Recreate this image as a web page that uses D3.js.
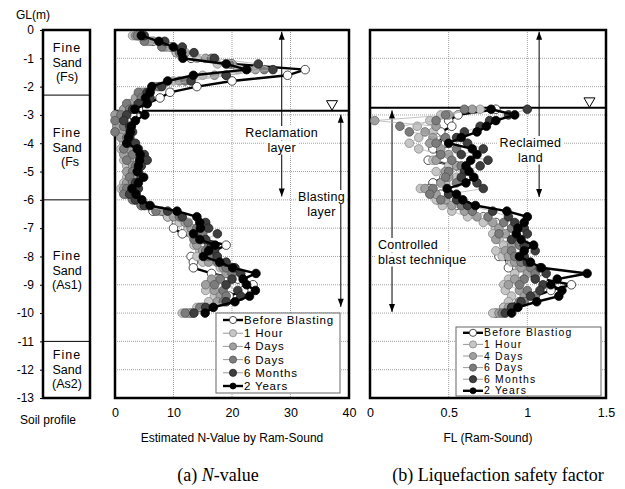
<!DOCTYPE html>
<html>
<head>
<meta charset="utf-8">
<script src="https://cdn.jsdelivr.net/npm/d3@7"></script>
<style>
  body { margin: 0; background: #fff; }
  text { font-family: "Liberation Sans", "DejaVu Sans", sans-serif; }
</style>
</head>
<body>
<div id="chart"></div>
<script>
// Depths (m) of the Ram-Sound readings
const depthsN = [-0.2, -0.4, -0.6, -0.8, -1.0, -1.2, -1.4, -1.6, -1.8, -2.0,
  -2.2, -2.4, -2.6, -2.8, -3.0, -3.2, -3.4, -3.6, -3.8, -4.0,
  -4.2, -4.4, -4.6, -4.8, -5.0, -5.2, -5.4, -5.6, -5.8, -6.0,
  -6.2, -6.4, -6.6, -6.8, -7.0, -7.2, -7.4, -7.6, -7.8, -8.0,
  -8.2, -8.4, -8.6, -8.8, -9.0, -9.2, -9.4, -9.6, -9.8, -10.0];
const depthsFL = [-2.8, -3.0, -3.2, -3.4, -3.6, -3.8, -4.0,
  -4.2, -4.4, -4.6, -4.8, -5.0, -5.2, -5.4, -5.6, -5.8, -6.0,
  -6.2, -6.4, -6.6, -6.8, -7.0, -7.2, -7.4, -7.6, -7.8, -8.0,
  -8.2, -8.4, -8.6, -8.8, -9.0, -9.2, -9.4, -9.6, -9.8, -10.0];

// Series names (legend b keeps the original typo)
const namesN = ["Before Blasting", "1 Hour", "4 Days", "6 Days", "6 Months", "2 Years"];
const namesFL = ["Before Blastiog", "1 Hour", "4 Days", "6 Days", "6 Months", "2 Years"];

// Estimated N-values
const nBefore = [4.0, 6.5, 9.5, 10.5, 13.0, 20.0, 32.5, 29.5, 20.0, 14.0,
  9.4, 7.7, 5.5, 4.0, 3.0, 2.0, 1.5, 1.8, 2.5, 3.0,
  2.5, 2.0, 3.0, 2.5, 3.5, 2.8, 2.0, 1.5, 2.0, 3.5,
  4.5, 6.5, 9.0, 10.5, 10.0, 11.5, 15.0, 19.0, 17.0, 13.0,
  13.4, 13.4, 16.5, 21.0, 23.6, 22.0, 19.5, 17.5, 15.0, 13.0];
const n1Hour = [3.0, 5.5, 9.0, 10.5, 14.0, 17.5, 21.0, 15.0, 10.0, 7.0,
  4.5, 4.0, 3.0, 1.5, 0.8, 0.5, 1.0, 0.6, 1.2, 1.5,
  1.0, 2.0, 1.5, 2.0, 2.5, 2.0, 1.5, 1.0, 2.0, 3.5,
  5.0, 7.5, 9.0, 11.0, 12.5, 13.0, 14.0, 13.5, 14.5, 14.0,
  15.0, 18.0, 19.5, 17.5, 16.0, 15.5, 17.0, 16.0, 14.0, 11.5];
const n4Days = [3.5, 6.0, 8.5, 12.0, 15.5, 20.0, 24.0, 17.0, 11.0, 6.5,
  5.0, 3.5, 2.5, 1.5, 0.0, 1.0, 0.3, 1.5, 1.0, 2.0,
  2.5, 1.5, 2.5, 3.0, 2.0, 3.0, 2.0, 1.5, 2.5, 4.0,
  5.5, 8.0, 10.0, 12.0, 13.0, 14.0, 15.5, 14.0, 15.0, 16.5,
  16.0, 18.5, 19.0, 16.5, 15.5, 17.0, 18.0, 17.5, 15.0, 12.5];
const n6Days = [3.8, 5.0, 8.0, 11.0, 16.5, 19.5, 25.5, 19.0, 12.0, 7.5,
  4.0, 4.5, 2.0, 2.5, 1.0, 0.0, 1.5, 0.0, 2.0, 2.5,
  1.5, 3.0, 2.0, 3.5, 3.0, 2.5, 3.0, 2.0, 1.5, 3.0,
  4.5, 7.0, 11.0, 12.5, 14.0, 15.0, 13.5, 16.0, 15.5, 16.0,
  17.5, 19.0, 20.0, 18.0, 17.0, 18.5, 19.0, 18.5, 14.5, 12.0];
const n6Months = [5.0, 8.5, 11.5, 13.5, 17.0, 24.5, 27.0, 19.0, 13.0, 8.0,
  5.5, 6.0, 4.0, 3.0, 2.0, 1.5, 2.5, 3.0, 2.5, 3.5,
  4.0, 5.0, 5.5, 4.5, 4.0, 4.5, 3.5, 4.0, 2.5, 3.5,
  5.0, 9.0, 11.5, 15.5, 16.0, 17.5, 15.5, 16.5, 17.0, 17.5,
  19.0, 20.5, 21.5, 20.0, 19.0, 21.0, 21.5, 19.0, 15.5, 13.5];
const n2Years = [4.5, 7.5, 10.0, 11.4, 11.6, 19.0, 22.5, 13.4, 9.0, 6.3,
  6.0, 5.2, 5.5, 3.4, 5.1, 3.5, 2.8, 2.6, 2.3, 2.0,
  3.8, 4.3, 4.2, 4.0, 3.8, 4.9, 4.0, 2.9, 3.6, 4.6,
  6.0, 10.6, 14.0, 14.5, 14.6, 13.4, 14.5, 17.1, 16.0, 15.1,
  17.9, 20.1, 24.1, 21.9, 22.5, 24.0, 23.0, 20.5, 16.8, 15.4];

// Liquefaction safety factor FL
const flBefore = [0.80, 0.56, 0.50, 0.52, 0.45, 0.42, 0.48,
  0.40, 0.45, 0.37, 0.55, 0.50, 0.47, 0.40, 0.38, 0.45, 0.43,
  0.55, 0.65, 0.72, 0.80, 0.85, 0.88, 0.93, 0.88, 0.85, 0.82,
  0.89, 0.88, 0.95, 1.10, 1.28, 1.15, 1.05, 0.95, 0.85, 0.80];
const fl1Hour = [0.70, 0.45, 0.38, 0.30, 0.40, 0.31, 0.25,
  0.31, 0.45, 0.40, 0.50, 0.42, 0.55, 0.48, 0.32, 0.40, 0.42,
  0.46, 0.52, 0.62, 0.72, 0.80, 0.78, 0.82, 0.85, 0.80, 0.84,
  0.90, 0.95, 0.92, 0.88, 0.85, 0.86, 0.90, 0.88, 0.85, 0.78];
const fl4Days = [0.65, 0.50, 0.03, 0.42, 0.35, 0.40, 0.38,
  0.45, 0.50, 0.42, 0.55, 0.48, 0.50, 0.45, 0.35, 0.42, 0.48,
  0.52, 0.60, 0.68, 0.78, 0.82, 0.86, 0.80, 0.90, 0.86, 0.88,
  0.92, 0.96, 1.00, 0.92, 0.88, 0.95, 0.98, 0.95, 0.88, 0.82];
const fl6Days = [0.60, 0.48, 0.42, 0.19, 0.25, 0.48, 0.42,
  0.55, 0.45, 0.52, 0.58, 0.50, 0.48, 0.55, 0.40, 0.38, 0.45,
  0.58, 0.65, 0.75, 0.85, 0.90, 0.82, 0.92, 0.95, 0.90, 0.92,
  0.96, 1.02, 1.05, 0.98, 0.95, 1.00, 1.05, 0.98, 0.90, 0.84];
const fl6Months = [1.00, 0.88, 0.76, 0.70, 0.60, 0.55, 0.62,
  0.72, 0.58, 0.75, 0.70, 0.60, 0.58, 0.68, 0.72, 0.50, 0.55,
  0.62, 0.78, 0.88, 0.92, 0.98, 1.00, 0.90, 0.98, 1.05, 0.98,
  1.00, 1.08, 1.12, 1.05, 1.10, 1.08, 1.02, 0.96, 0.90, 0.86];
const fl2Years = [0.77, 0.92, 0.80, 0.74, 0.68, 0.58, 0.50,
  0.65, 0.68, 0.64, 0.61, 0.63, 0.66, 0.61, 0.49, 0.55, 0.59,
  0.67, 0.87, 1.00, 0.98, 0.94, 0.93, 0.96, 1.04, 0.98, 0.95,
  1.02, 1.09, 1.38, 1.19, 1.15, 1.22, 1.20, 1.06, 0.94, 0.90];

// Ticks
const depthTicks = [0, -1, -2, -3, -4, -5, -6, -7, -8, -9, -10, -11, -12, -13];
const nTicks = [0, 10, 20, 30, 40];
const flTicks = [0, 0.5, 1, 1.5];

// Soil profile
const soilTops = [0, -2.3, -6, -11];
const soilBottoms = [-2.3, -6, -11, -13];
const soilLabels = [["Fine", "Sand", "(Fs)"], ["Fine", "Sand", "(Fs"], ["Fine", "Sand", "(As1)"], ["Fine", "Sand", "(As2)"]];

const waterN = -2.85;
const waterFL = -2.75;

// ---------- drawing ----------
const width = 625, height = 489;
const svg = d3.select("#chart").append("svg")
  .attr("width", width).attr("height", height)
  .style("display", "block");
svg.append("rect").attr("width", width).attr("height", height).attr("fill", "#fff");

const y = d3.scaleLinear().domain([0, -13]).range([30, 398]);
const xN = d3.scaleLinear().domain([0, 40]).range([115, 349]);
const xF = d3.scaleLinear().domain([0, 1.5]).range([370, 606]);

// marker styles per series, same order as the names
const looks = [
  { fill: "#fff", stroke: "#222", line: "#000", lw: 2.4 },
  { fill: "#c6c6c6", stroke: "#8a8a8a", line: "#b4b4b4", lw: 0.8 },
  { fill: "#a0a0a0", stroke: "#6e6e6e", line: "#b4b4b4", lw: 0.8 },
  { fill: "#7c7c7c", stroke: "#555", line: "#b4b4b4", lw: 0.8 },
  { fill: "#3e3e3e", stroke: "#222", line: "#b4b4b4", lw: 0.8 },
  { fill: "#000", stroke: "#000", line: "#000", lw: 2.4 }
];

// Soil profile column
const soil = svg.append("g");
soil.selectAll("line.div")
  .data(soilTops.slice(1))
  .join("line")
  .attr("x1", 43).attr("x2", 90)
  .attr("y1", d => y(d)).attr("y2", d => y(d))
  .attr("stroke", "#000").attr("stroke-width", 1);
soil.append("rect")
  .attr("x", 43).attr("y", y(0)).attr("width", 47).attr("height", y(-13) - y(0))
  .attr("fill", "none").attr("stroke", "#000").attr("stroke-width", 2.5);
soilLabels.forEach((lines, i) => {
  const mid = y((soilTops[i] + soilBottoms[i]) / 2);
  lines.forEach((t, j) => {
    soil.append("text")
      .attr("x", t === "(Fs" ? 70 : 67)
      .attr("y", mid + (j - 1) * 14.5 + 4.3)
      .attr("text-anchor", "middle")
      .style("font-size", "12.5px")
      .style("letter-spacing", t === "Fine" ? "1px" : null)
      .text(t);
  });
});

// depth axis
const yAxis = svg.append("g")
  .attr("transform", "translate(43,0)")
  .call(d3.axisLeft(y).tickValues(depthTicks).tickFormat(d => String(d)).tickSize(3).tickPadding(6));
yAxis.select(".domain").remove();
yAxis.selectAll("text").style("font-size", "12px").style("font-family", "'Liberation Sans', sans-serif");

svg.append("text").attr("x", 16).attr("y", 19).style("font-size", "12px").text("GL(m)");
svg.append("text").attr("x", 20).attr("y", 424).style("font-size", "12px").text("Soil profile");

function arrowHead(g, x, yy, dir) {
  // dir = -1 points up, 1 points down
  g.append("path")
    .attr("d", `M${x},${yy} L${x - 3},${yy - dir * 8} L${x + 3},${yy - dir * 8} Z`)
    .attr("fill", "#000");
}

function vArrow(g, x, y1, y2, upHead, downHead) {
  g.append("line").attr("x1", x).attr("x2", x).attr("y1", y1).attr("y2", y2)
    .attr("stroke", "#000").attr("stroke-width", 1);
  if (upHead) arrowHead(g, x, y1, -1);
  if (downHead) arrowHead(g, x, y2, 1);
}

function boxedLabel(g, x, yy, lines, anchor) {
  lines.forEach((t, i) => {
    const tx = g.append("text")
      .attr("x", x).attr("y", yy + i * 14.5)
      .attr("text-anchor", anchor)
      .style("font-size", "12.5px")
      .style("letter-spacing", "0.3px")
      .text(t);
    const b = tx.node().getBBox();
    g.insert("rect", () => tx.node())
      .attr("x", b.x - 2).attr("y", b.y).attr("width", b.width + 4).attr("height", b.height)
      .attr("fill", "#fff");
  });
}

function panel(x, depths, seriesList, names, ticks, fmt, water, legend) {
  const g = svg.append("g");
  const [x0, x1] = x.range();

  // grid
  g.selectAll("line.hg")
    .data(depthTicks.filter(d => d !== 0 && d !== -13))
    .join("line")
    .attr("x1", x0).attr("x2", x1)
    .attr("y1", d => y(d)).attr("y2", d => y(d))
    .attr("stroke", "#8c8c8c").attr("stroke-width", 0.8).attr("stroke-dasharray", "1,1");
  g.selectAll("line.vg")
    .data(ticks.slice(1, -1))
    .join("line")
    .attr("x1", d => x(d)).attr("x2", d => x(d))
    .attr("y1", y(0)).attr("y2", y(-13))
    .attr("stroke", "#8c8c8c").attr("stroke-width", 0.8).attr("stroke-dasharray", "1,1");

  // ground water level
  g.append("line")
    .attr("x1", x0).attr("x2", x1).attr("y1", y(water)).attr("y2", y(water))
    .attr("stroke", "#000").attr("stroke-width", 2);

  // frame
  g.append("rect")
    .attr("x", x0).attr("y", y(0)).attr("width", x1 - x0).attr("height", y(-13) - y(0))
    .attr("fill", "none").attr("stroke", "#000").attr("stroke-width", 2.5);

  const ann = svg.append("g");
  legend.annotate(ann);

  // series
  const line = d3.line().x(d => x(d[0])).y(d => y(d[1]));
  seriesList.forEach((vals, i) => {
    const pts = vals.map((v, k) => [v, depths[k]]);
    const s = svg.append("g");
    s.append("path").attr("d", line(pts))
      .attr("fill", "none").attr("stroke", looks[i].line).attr("stroke-width", looks[i].lw);
    s.selectAll("circle").data(pts).join("circle")
      .attr("cx", d => x(d[0])).attr("cy", d => y(d[1])).attr("r", 4.3)
      .attr("fill", looks[i].fill).attr("stroke", looks[i].stroke).attr("stroke-width", 0.8);
  });

  // water table symbol
  const tx = x(legend.tri), ty = y(water) - 10;
  svg.append("path")
    .attr("d", `M${tx - 5.5},${ty} L${tx + 5.5},${ty} L${tx},${ty + 9.5} Z`)
    .attr("fill", "#fff").attr("stroke", "#000").attr("stroke-width", 1);

  // x axis labels
  const ax = svg.append("g").attr("transform", `translate(0,${y(-13)})`)
    .call(d3.axisBottom(x).tickValues(ticks).tickFormat(fmt).tickSize(0).tickPadding(10));
  ax.select(".domain").remove();
  ax.selectAll("text").style("font-size", "12.5px").style("font-family", "'Liberation Sans', sans-serif");

  // legend
  const L = svg.append("g");
  L.append("rect")
    .attr("x", legend.x).attr("y", legend.y).attr("width", legend.w).attr("height", legend.h)
    .attr("fill", "#fff").attr("stroke", "#666").attr("stroke-width", 1);
  names.forEach((n, i) => {
    const cy = legend.y + legend.first + i * legend.step;
    L.append("line")
      .attr("x1", legend.x + 7).attr("x2", legend.x + 27).attr("y1", cy).attr("y2", cy)
      .attr("stroke", i === 0 || i === 5 ? "#000" : "#999")
      .attr("stroke-width", i === 0 || i === 5 ? 2.4 : 1);
    L.append("circle")
      .attr("cx", legend.x + 17).attr("cy", cy).attr("r", i === 5 ? 3 : 3.6)
      .attr("fill", looks[i].fill).attr("stroke", looks[i].stroke).attr("stroke-width", 0.8);
    L.append("text")
      .attr("x", legend.x + 28).attr("y", cy + legend.dy)
      .style("font-size", legend.fs)
      .style("letter-spacing", legend.ls)
      .text(n);
  });
}

panel(xN, depthsN, [nBefore, n1Hour, n4Days, n6Days, n6Months, n2Years], namesN,
  nTicks, d => String(d), waterN, {
    x: 216, y: 313, w: 124, h: 80, first: 7, step: 13.2, fs: "11.5px", ls: "0.8px", dy: 4, tri: 37.1,
    annotate: g => {
      vArrow(g, xN(28.5), y(-0.06), y(-5.88), true, true);
      boxedLabel(g, xN(28.5), 137, ["Reclamation", "layer"], "middle");
      vArrow(g, xN(38.6), y(-2.99), y(-9.78), true, true);
      boxedLabel(g, xN(35.3), 201, ["Blasting", "layer"], "middle");
    }
  });

panel(xF, depthsFL, [flBefore, fl1Hour, fl4Days, fl6Days, fl6Months, fl2Years], namesFL,
  flTicks, d => (d === 0 || d === 1) ? String(d) : d.toFixed(1), waterFL, {
    x: 456, y: 327, w: 145, h: 69, first: 5.8, step: 11.6, fs: "10.4px", ls: "1.2px", dy: 3.6, tri: 1.395,
    annotate: g => {
      vArrow(g, xF(1.075), y(-0.06), y(-5.9), true, true);
      boxedLabel(g, xF(1.02), 147, ["Reclaimed", "land"], "middle");
      vArrow(g, xF(0.14), y(-2.84), y(-9.96), true, true);
      boxedLabel(g, 378, 249, ["Controlled", "blast technique"], "start");
    }
  });

// axis titles
svg.append("text").attr("x", 232).attr("y", 442).attr("text-anchor", "middle")
  .style("font-size", "12px").text("Estimated N-Value by Ram-Sound");
svg.append("text").attr("x", 488).attr("y", 442).attr("text-anchor", "middle")
  .style("font-size", "12px").text("FL (Ram-Sound)");

// captions
const capA = svg.append("text").attr("x", 218).attr("y", 481).attr("text-anchor", "middle")
  .style("font-family", "'Liberation Serif', serif").style("font-size", "18px");
capA.append("tspan").text("(a) ");
capA.append("tspan").style("font-style", "italic").text("N");
capA.append("tspan").text("-value");
svg.append("text").attr("x", 498).attr("y", 481).attr("text-anchor", "middle")
  .style("font-family", "'Liberation Serif', serif").style("font-size", "18px")
  .text("(b) Liquefaction safety factor");
</script>
</body>
</html>
